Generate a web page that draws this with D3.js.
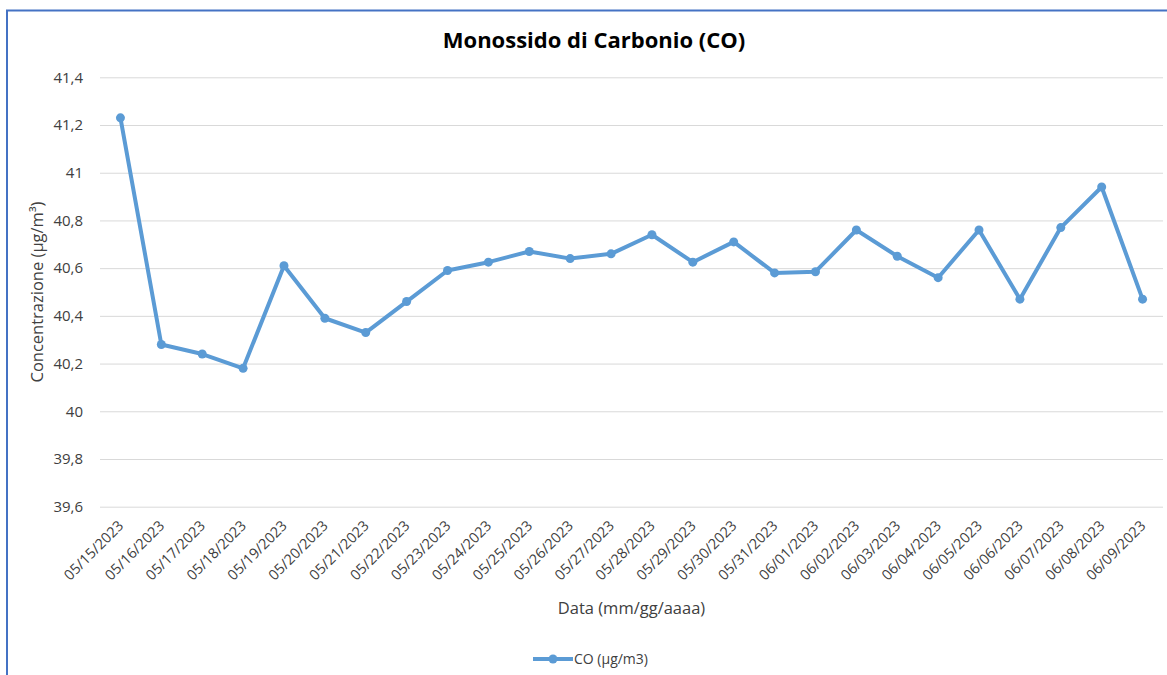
<!DOCTYPE html>
<html>
<head>
<meta charset="utf-8">
<script src="https://cdn.jsdelivr.net/npm/d3@7"></script>
<style>
  html, body { margin: 0; padding: 0; background: #fff; }
  svg { display: block; font-family: "Open Sans", "Noto Sans", sans-serif; }
</style>
</head>
<body>
<svg id="chart" width="1167" height="675"></svg>
<script>
const title = "Monossido di Carbonio (CO)";
const yAxisTitle = "Concentrazione (µg/m³)";
const xAxisTitle = "Data (mm/gg/aaaa)";
const seriesName = "CO (µg/m3)";
const dates = ["05/15/2023","05/16/2023","05/17/2023","05/18/2023","05/19/2023","05/20/2023","05/21/2023","05/22/2023","05/23/2023","05/24/2023","05/25/2023","05/26/2023","05/27/2023","05/28/2023","05/29/2023","05/30/2023","05/31/2023","06/01/2023","06/02/2023","06/03/2023","06/04/2023","06/05/2023","06/06/2023","06/07/2023","06/08/2023","06/09/2023"];
const coValues = [41.23,40.28,40.24,40.18,40.61,40.39,40.33,40.46,40.59,40.625,40.67,40.64,40.66,40.74,40.625,40.71,40.58,40.585,40.76,40.65,40.56,40.76,40.47,40.77,40.94,40.47];
const yTicks = [39.6,39.8,40,40.2,40.4,40.6,40.8,41,41.2,41.4];

const svg = d3.select("#chart");
const W = 1167, H = 675;
const plot = {left: 100, right: 1163, top: 77.3, bottom: 506.7};
const lineColor = "#5B9BD5";
const textColor = "#404040";

// outer frame
svg.append("rect").attr("x", 0).attr("y", 0).attr("width", W).attr("height", H).attr("fill", "#fff");
svg.append("rect").attr("x", 7).attr("y", 10.5).attr("width", 1300).attr("height", 800)
  .attr("fill", "none").attr("stroke", "#4472C4").attr("stroke-width", 2);

const x = d3.scaleBand().domain(dates).range([plot.left, plot.right]);
const y = d3.scaleLinear().domain([39.6, 41.4]).range([plot.bottom, plot.top]);
const locale = d3.formatLocale({decimal: ",", thousands: ".", grouping: [3], currency: ["€", ""]});
const fmt = locale.format(".1~f");

// gridlines + y labels via axis
const yAxis = d3.axisLeft(y).tickValues(yTicks).tickFormat(fmt).tickSize(-(plot.right - plot.left)).tickPadding(17);
const gy = svg.append("g").attr("transform", `translate(${plot.left},0)`).call(yAxis);
gy.select(".domain").remove();
gy.selectAll(".tick line").attr("stroke", "#D9D9D9").attr("stroke-width", 1);
gy.selectAll(".tick text").attr("fill", textColor).attr("font-size", 15).attr("font-family", "Open Sans");

// x axis labels
const xAxis = d3.axisBottom(x).tickSize(0).tickPadding(0);
const gx = svg.append("g").attr("transform", `translate(0,${plot.bottom})`).call(xAxis);
gx.select(".domain").remove();
gx.selectAll(".tick text")
  .attr("fill", textColor).attr("font-size", 14.5).attr("font-family", "Open Sans")
  .attr("text-anchor", "end")
  .attr("dy", 0)
  .attr("transform", "translate(4,20) rotate(-45)");

// line
const line = d3.line().x((d, i) => x(dates[i]) + x.bandwidth() / 2).y(d => y(d));
svg.append("path").datum(coValues).attr("d", line)
  .attr("fill", "none").attr("stroke", lineColor).attr("stroke-width", 4)
  .attr("stroke-linejoin", "round").attr("stroke-linecap", "round");
svg.append("g").selectAll("circle").data(coValues).join("circle")
  .attr("cx", (d, i) => x(dates[i]) + x.bandwidth() / 2)
  .attr("cy", d => y(d)).attr("r", 4.5).attr("fill", lineColor);

// title
svg.append("text").attr("x", 594).attr("y", 48).attr("text-anchor", "middle")
  .attr("font-size", 22).attr("font-weight", "bold").attr("fill", "#000").text(title);

// axis titles
svg.append("text").attr("transform", `translate(43,${(plot.top + plot.bottom) / 2}) rotate(-90)`)
  .attr("text-anchor", "middle").attr("font-size", 16.5).attr("fill", textColor).text(yAxisTitle);
svg.append("text").attr("x", (plot.left + plot.right) / 2).attr("y", 614).attr("text-anchor", "middle")
  .attr("font-size", 16.5).attr("fill", textColor).text(xAxisTitle);

// legend
const lg = svg.append("g").attr("transform", "translate(533,659)");
lg.append("line").attr("x1", 0).attr("x2", 40).attr("y1", 0).attr("y2", 0)
  .attr("stroke", lineColor).attr("stroke-width", 4);
lg.append("circle").attr("cx", 20).attr("cy", 0).attr("r", 4.5).attr("fill", lineColor);
lg.append("text").attr("x", 41).attr("y", 5).attr("font-size", 14).attr("fill", textColor).text(seriesName);
</script>
</body>
</html>
